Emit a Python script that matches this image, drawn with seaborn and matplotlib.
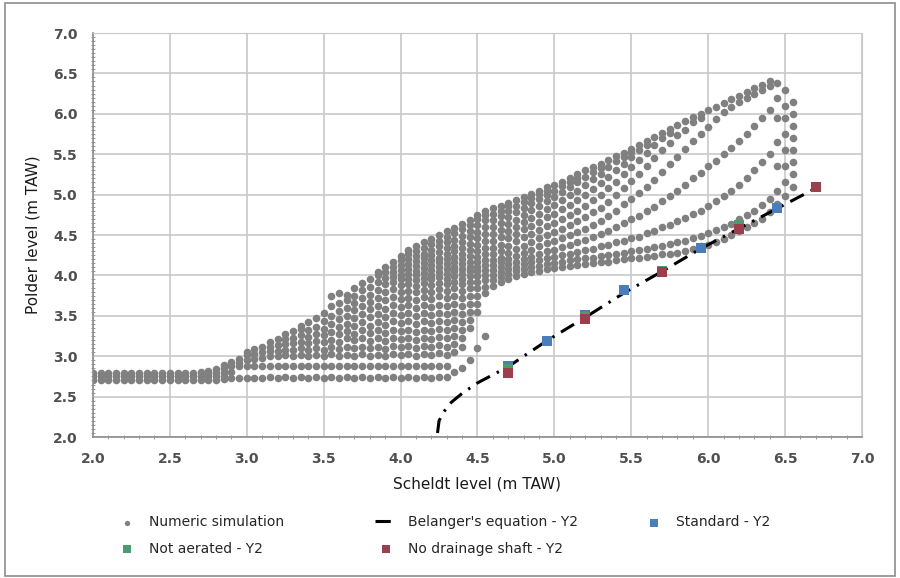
import matplotlib
matplotlib.use("Agg")
import matplotlib.pyplot as plt
import matplotlib.patches as mpatches
from matplotlib.ticker import MultipleLocator, FormatStrFormatter
import pandas as pd
import seaborn as sns

# numeric simulation cloud, read column by column: scheldt level -> polder levels
sim_cols = {
    2.00: [2.71, 2.75, 2.79], 2.05: [2.71, 2.75, 2.79], 2.10: [2.71, 2.75, 2.79],
    2.15: [2.71, 2.75, 2.79], 2.20: [2.71, 2.75, 2.79], 2.25: [2.71, 2.75, 2.79],
    2.30: [2.71, 2.75, 2.79], 2.35: [2.71, 2.75, 2.79], 2.40: [2.71, 2.75, 2.79],
    2.45: [2.71, 2.75, 2.79], 2.50: [2.71, 2.75, 2.79], 2.55: [2.71, 2.75, 2.79],
    2.60: [2.71, 2.75, 2.79], 2.65: [2.71, 2.75, 2.79], 2.70: [2.71, 2.75, 2.80],
    2.75: [2.71, 2.75, 2.79, 2.82],
    2.80: [2.71, 2.75, 2.79, 2.84],
    2.85: [2.72, 2.76, 2.80, 2.85, 2.89],
    2.90: [2.73, 2.80, 2.88, 2.93],
    2.95: [2.73, 2.88, 2.92, 2.97],
    3.00: [2.73, 2.88, 2.95, 3.01, 3.05],
    3.05: [2.73, 2.88, 2.97, 3.03, 3.09],
    3.10: [2.73, 2.88, 2.98, 3.05, 3.12],
    3.15: [2.74, 2.88, 3.00, 3.06, 3.12, 3.17],
    3.20: [2.73, 2.88, 3.00, 3.07, 3.14, 3.21],
    3.25: [2.74, 2.88, 3.01, 3.08, 3.15, 3.21, 3.27],
    3.30: [2.73, 2.88, 3.00, 3.08, 3.16, 3.23, 3.31],
    3.35: [2.74, 2.88, 3.02, 3.10, 3.18, 3.26, 3.34, 3.38],
    3.40: [2.73, 2.88, 3.00, 3.08, 3.16, 3.24, 3.32, 3.42],
    3.45: [2.74, 2.88, 3.02, 3.10, 3.19, 3.28, 3.36, 3.47],
    3.50: [2.73, 2.88, 3.00, 3.08, 3.17, 3.26, 3.34, 3.43, 3.54],
    3.55: [2.74, 2.88, 3.03, 3.12, 3.20, 3.30, 3.40, 3.50, 3.62, 3.74],
    3.60: [2.73, 2.88, 3.00, 3.09, 3.18, 3.27, 3.36, 3.46, 3.56, 3.66, 3.78],
    3.65: [2.74, 2.88, 3.02, 3.12, 3.22, 3.31, 3.40, 3.50, 3.60, 3.70, 3.76],
    3.70: [2.73, 2.88, 3.00, 3.10, 3.20, 3.28, 3.38, 3.47, 3.57, 3.66, 3.75, 3.84],
    3.75: [2.74, 2.88, 3.03, 3.12, 3.22, 3.32, 3.42, 3.52, 3.62, 3.72, 3.82, 3.90],
    3.80: [2.73, 2.88, 3.00, 3.10, 3.19, 3.29, 3.38, 3.48, 3.58, 3.67, 3.76, 3.86, 3.95],
    3.85: [2.74, 2.88, 3.02, 3.12, 3.22, 3.32, 3.42, 3.52, 3.62, 3.72, 3.82, 3.92, 4.00, 4.04],
    3.90: [2.73, 2.88, 3.00, 3.09, 3.19, 3.29, 3.39, 3.49, 3.59, 3.69, 3.79, 3.89, 3.97,
           4.04, 4.10],
    3.95: [2.74, 2.88, 3.03, 3.13, 3.23, 3.33, 3.43, 3.53, 3.63, 3.73, 3.83, 3.92, 3.98,
           4.04, 4.10, 4.16],
    4.00: [2.73, 2.88, 3.01, 3.11, 3.21, 3.31, 3.41, 3.51, 3.61, 3.71, 3.80, 3.88, 3.95,
           4.01, 4.07, 4.13, 4.19, 4.24],
    4.05: [2.74, 2.88, 3.03, 3.13, 3.23, 3.33, 3.43, 3.53, 3.63, 3.72, 3.81, 3.89, 3.96,
           4.02, 4.08, 4.14, 4.20, 4.26, 4.31],
    4.10: [2.73, 2.88, 3.00, 3.10, 3.20, 3.30, 3.40, 3.50, 3.60, 3.70, 3.79, 3.87, 3.94,
           4.00, 4.06, 4.12, 4.18, 4.24, 4.30, 4.37],
    4.15: [2.74, 2.88, 3.03, 3.13, 3.23, 3.33, 3.43, 3.53, 3.63, 3.73, 3.82, 3.90, 3.97,
           4.03, 4.09, 4.15, 4.21, 4.27, 4.34, 4.41],
    4.20: [2.73, 2.88, 3.01, 3.11, 3.21, 3.31, 3.41, 3.51, 3.61, 3.71, 3.80, 3.88, 3.95,
           4.01, 4.07, 4.13, 4.19, 4.25, 4.32, 4.39, 4.45],
    4.25: [2.74, 2.88, 3.04, 3.14, 3.24, 3.34, 3.44, 3.54, 3.64, 3.74, 3.83, 3.91, 3.98,
           4.04, 4.10, 4.16, 4.22, 4.29, 4.36, 4.43, 4.50],
    4.30: [2.74, 2.88, 3.02, 3.12, 3.22, 3.32, 3.42, 3.52, 3.62, 3.72, 3.81, 3.89, 3.96,
           4.02, 4.08, 4.14, 4.20, 4.27, 4.34, 4.41, 4.48, 4.55],
    4.35: [2.80, 3.05, 3.15, 3.25, 3.35, 3.45, 3.55, 3.65, 3.75, 3.84, 3.92, 3.99, 4.05,
           4.11, 4.17, 4.23, 4.30, 4.37, 4.44, 4.52, 4.59],
    4.40: [2.86, 3.12, 3.22, 3.32, 3.42, 3.52, 3.62, 3.72, 3.81, 3.89, 3.96, 4.02, 4.08,
           4.14, 4.20, 4.27, 4.34, 4.41, 4.49, 4.57, 4.64],
    4.45: [2.95, 3.35, 3.45, 3.55, 3.65, 3.75, 3.84, 3.92, 3.99, 4.05, 4.11, 4.17, 4.24,
           4.31, 4.39, 4.47, 4.55, 4.62, 4.69],
    4.50: [3.10, 3.55, 3.65, 3.75, 3.84, 3.92, 3.99, 4.05, 4.11, 4.17, 4.23, 4.30, 4.38,
           4.46, 4.54, 4.62, 4.70, 4.75],
    4.55: [3.25, 3.78, 3.86, 3.94, 4.01, 4.07, 4.13, 4.19, 4.26, 4.34, 4.42, 4.51, 4.60,
           4.68, 4.75, 4.80],
    4.60: [3.87, 3.94, 4.01, 4.07, 4.13, 4.19, 4.26, 4.34, 4.42, 4.51, 4.60, 4.68, 4.76, 4.83],
    4.65: [3.92, 3.98, 4.04, 4.10, 4.16, 4.22, 4.30, 4.38, 4.47, 4.56, 4.65, 4.73, 4.80, 4.86],
    4.70: [3.96, 4.02, 4.08, 4.14, 4.20, 4.28, 4.37, 4.46, 4.55, 4.64, 4.72, 4.80, 4.86, 4.90],
    4.75: [3.99, 4.05, 4.11, 4.17, 4.24, 4.33, 4.42, 4.51, 4.60, 4.69, 4.78, 4.86, 4.93],
    4.80: [4.02, 4.08, 4.14, 4.20, 4.28, 4.37, 4.47, 4.57, 4.66, 4.75, 4.84, 4.91, 4.97],
    4.85: [4.04, 4.10, 4.16, 4.23, 4.31, 4.41, 4.51, 4.61, 4.71, 4.81, 4.90, 4.96, 5.01],
    4.90: [4.06, 4.12, 4.19, 4.27, 4.36, 4.46, 4.56, 4.66, 4.76, 4.86, 4.95, 5.01, 5.05],
    4.95: [4.08, 4.14, 4.21, 4.30, 4.40, 4.50, 4.61, 4.72, 4.82, 4.92, 5.00, 5.05, 5.09],
    5.00: [4.09, 4.15, 4.23, 4.32, 4.43, 4.54, 4.65, 4.76, 4.87, 4.97, 5.05, 5.12],
    5.05: [4.11, 4.17, 4.25, 4.35, 4.46, 4.58, 4.70, 4.82, 4.93, 5.03, 5.11, 5.16],
    5.10: [4.12, 4.19, 4.27, 4.38, 4.50, 4.62, 4.75, 4.87, 4.99, 5.09, 5.16, 5.20],
    5.15: [4.13, 4.20, 4.29, 4.41, 4.54, 4.67, 4.80, 4.93, 5.05, 5.15, 5.21, 5.25],
    5.20: [4.14, 4.21, 4.31, 4.44, 4.58, 4.72, 4.86, 5.00, 5.12, 5.22, 5.30],
    5.25: [4.15, 4.22, 4.33, 4.47, 4.62, 4.78, 4.93, 5.07, 5.19, 5.28, 5.34],
    5.30: [4.16, 4.24, 4.36, 4.51, 4.67, 4.84, 5.00, 5.14, 5.26, 5.33, 5.38],
    5.35: [4.17, 4.25, 4.38, 4.55, 4.73, 4.91, 5.08, 5.22, 5.34, 5.43],
    5.40: [4.19, 4.27, 4.41, 4.60, 4.80, 4.99, 5.16, 5.30, 5.41, 5.48],
    5.45: [4.20, 4.28, 4.43, 4.65, 4.88, 5.08, 5.25, 5.38, 5.47, 5.52],
    5.50: [4.21, 4.30, 4.46, 4.70, 4.95, 5.17, 5.34, 5.46, 5.53, 5.57],
    5.55: [4.22, 4.31, 4.48, 4.74, 5.02, 5.26, 5.43, 5.55, 5.62],
    5.60: [4.23, 4.33, 4.52, 4.80, 5.10, 5.35, 5.52, 5.61, 5.66],
    5.65: [4.24, 4.35, 4.55, 4.85, 5.18, 5.45, 5.62, 5.71],
    5.70: [4.26, 4.37, 4.60, 4.92, 5.28, 5.55, 5.70, 5.76],
    5.75: [4.27, 4.39, 4.63, 4.98, 5.38, 5.64, 5.76, 5.81],
    5.80: [4.28, 4.41, 4.67, 5.05, 5.47, 5.74, 5.86],
    5.85: [4.30, 4.43, 4.71, 5.12, 5.56, 5.80, 5.91],
    5.90: [4.33, 4.46, 4.76, 5.20, 5.66, 5.90, 5.96],
    5.95: [4.36, 4.49, 4.80, 5.27, 5.75, 5.95, 6.00],
    6.00: [4.38, 4.53, 4.86, 5.35, 5.84, 6.05],
    6.05: [4.41, 4.56, 4.92, 5.42, 5.93, 6.09],
    6.10: [4.45, 4.60, 4.98, 5.50, 6.02, 6.13],
    6.15: [4.50, 4.64, 5.05, 5.58, 6.08, 6.18],
    6.20: [4.55, 4.70, 5.12, 5.66, 6.15, 6.22],
    6.25: [4.60, 4.75, 5.20, 5.75, 6.20, 6.27],
    6.30: [4.65, 4.80, 5.30, 5.85, 6.25, 6.32],
    6.35: [4.70, 4.87, 5.40, 5.95, 6.30, 6.36],
    6.40: [4.78, 4.95, 5.50, 6.05, 6.34, 6.40],
    6.45: [4.88, 5.05, 5.35, 5.65, 5.95, 6.20, 6.38],
    6.50: [4.98, 5.15, 5.35, 5.55, 5.75, 5.95, 6.10, 6.30],
    6.55: [5.10, 5.25, 5.40, 5.55, 5.70, 5.85, 6.00, 6.15],
}

belanger_x = [4.24, 4.25, 4.28, 4.33, 4.40, 4.50, 4.60, 4.70, 4.80, 4.95,
              5.20, 5.45, 5.70, 5.95, 6.20, 6.45, 6.70]
belanger_y = [2.05, 2.20, 2.31, 2.43, 2.54, 2.67, 2.77, 2.87, 3.00, 3.19,
              3.48, 3.78, 4.05, 4.33, 4.58, 4.83, 5.08]

standard_x = [4.70, 4.95, 5.20, 5.45, 5.95, 6.45]
standard_y = [2.88, 3.19, 3.51, 3.82, 4.34, 4.83]

not_aerated_x = [4.70, 5.20, 5.70, 6.20]
not_aerated_y = [2.84, 3.49, 4.06, 4.63]

no_drain_x = [4.70, 5.20, 5.70, 6.20, 6.70]
no_drain_y = [2.79, 3.46, 4.04, 4.57, 5.09]

sim_x = [x for x, ys in sim_cols.items() for _ in ys]
sim_y = [y for ys in sim_cols.values() for y in ys]
sim = pd.DataFrame({"scheldt": sim_x, "polder": sim_y})
bel = pd.DataFrame({"scheldt": belanger_x, "polder": belanger_y})

sns.set_style("white")
plt.rcParams["font.family"] = ["DejaVu Sans"]

fig = plt.figure(figsize=(9, 5.78), dpi=100)
ax = fig.add_axes([0.1033, 0.2439, 0.8545, 0.699])

h_sim = ax.scatter(sim["scheldt"], sim["polder"], s=30, color="#808080",
                   linewidths=0, zorder=2, label="Numeric simulation")
sns.lineplot(data=bel, x="scheldt", y="polder", ax=ax, color="black", lw=2.2,
             estimator=None, sort=False, zorder=4, label="Belanger's equation - Y2")
h_bel = ax.lines[-1]
h_bel.set_linestyle((0, (5, 2.5, 0.8, 2.5)))
h_std = ax.scatter(standard_x, standard_y, marker="s", s=60, color="#4A7EBB",
                   linewidths=0, zorder=5, label="Standard - Y2")
h_na = ax.scatter(not_aerated_x, not_aerated_y, marker="s", s=55, color="#4E9A70",
                  linewidths=0, zorder=5, label="Not aerated - Y2")
h_nd = ax.scatter(no_drain_x, no_drain_y, marker="s", s=55, color="#9B3F4C",
                  linewidths=0, zorder=6, label="No drainage shaft - Y2")
if ax.get_legend():
    ax.get_legend().remove()

ax.set_xlim(2, 7)
ax.set_ylim(2, 7)
ax.xaxis.set_major_locator(MultipleLocator(0.5))
ax.yaxis.set_major_locator(MultipleLocator(0.5))
ax.xaxis.set_minor_locator(MultipleLocator(0.1))
ax.yaxis.set_minor_locator(MultipleLocator(0.05))
ax.xaxis.set_major_formatter(FormatStrFormatter("%.1f"))
ax.yaxis.set_major_formatter(FormatStrFormatter("%.1f"))
ax.grid(True, which="major", color="#c8c8c8", lw=1.2, zorder=0)
ax.set_axisbelow(True)
for side in ["top", "right"]:
    ax.spines[side].set_color("#c8c8c8")
for side in ["left", "bottom"]:
    ax.spines[side].set_color("#8c8c8c")
    ax.spines[side].set_linewidth(1.2)
ax.tick_params(axis="both", which="major", length=4, color="#8c8c8c", pad=9,
               labelsize=10, labelcolor="#505050", direction="inout")
ax.tick_params(axis="both", which="minor", length=3, color="#8c8c8c",
               direction="inout", bottom=True, left=True)
for lbl in ax.get_xticklabels() + ax.get_yticklabels():
    lbl.set_fontweight("bold")

ax.set_xlabel("Scheldt level (m TAW)", fontsize=11, color="#1a1a1a", labelpad=7)
ax.set_ylabel("Polder level (m TAW)", fontsize=11, color="#1a1a1a", labelpad=9)

leg_style = dict(frameon=False, fontsize=10, handlelength=1.6, labelspacing=0.9,
                 markerscale=0.7, handletextpad=0.8)
handles = [h_sim, h_na, h_bel, h_nd]
fig.legend(handles, [h.get_label() for h in handles], ncol=2, loc="upper left",
           bbox_to_anchor=(0.115, 0.13), columnspacing=6.5, **leg_style)
fig.legend([h_std], [h_std.get_label()], loc="upper left",
           bbox_to_anchor=(0.7, 0.13), **leg_style)

fig.patches.append(mpatches.Rectangle((0.006, 0.004), 0.988, 0.99,
                                      transform=fig.transFigure, fill=False,
                                      edgecolor="#8c8c8c", lw=1.2))

fig.savefig("out.png", dpi=100)
